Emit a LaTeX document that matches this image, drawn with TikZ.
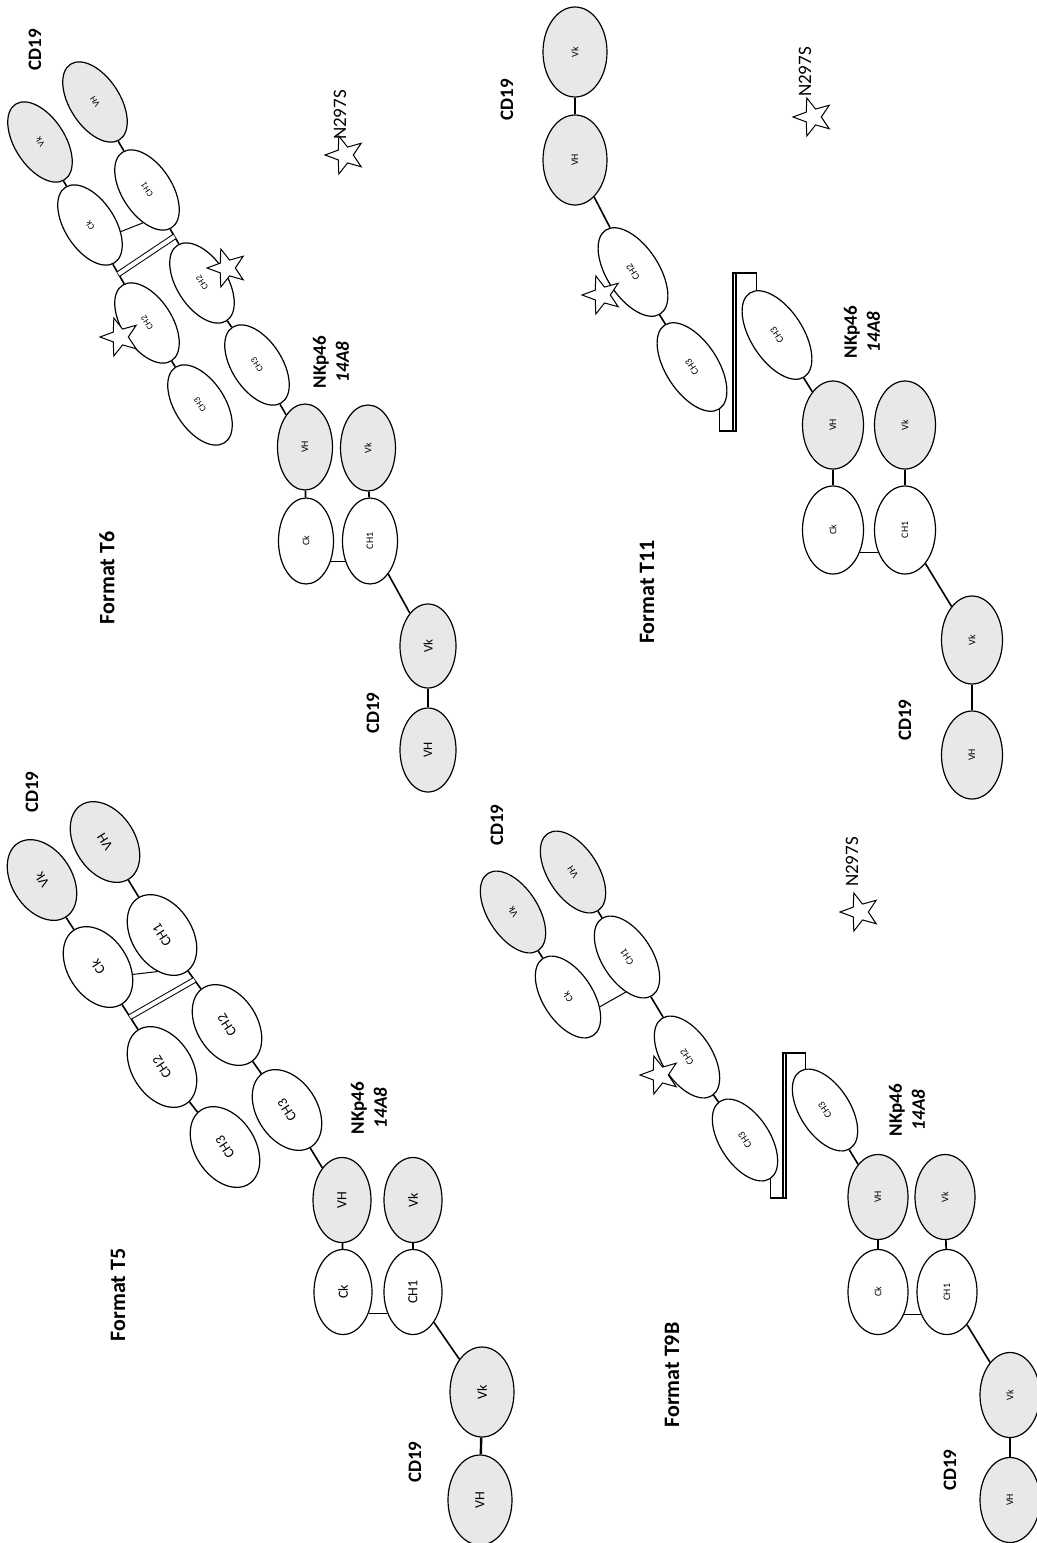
\documentclass[tikz,border=0pt]{standalone}
\usepackage{fontspec}
\setmainfont{Carlito}
\usetikzlibrary{shapes.geometric, calc}

\tikzset{
	dom/.style={ellipse, draw, line width=0.6pt, inner sep=0pt, font=\fontsize{5}{6}\selectfont},
	tilt/.style={dom, rotate=123, minimum width=45pt, minimum height=25pt},
	circdom/.style={dom, rotate=90, minimum width=40pt, minimum height=27pt},
	vdom/.style={fill=black!9},
	link/.style={line width=0.8pt},
	bond/.style={line width=0.5pt},
	sbond/.style={line width=0.5pt, double, double distance=2pt},
	knob/.style={line width=0.6pt},
	mut/.style={star, star points=5, star point ratio=2.4, draw, fill=white, line width=0.5pt, shape border rotate=90, minimum size=20pt, inner sep=0pt},
	lbl/.style={rotate=90, font=\fontsize{9.5}{11.5}\selectfont\bfseries, align=center},
	fmt/.style={rotate=90, font=\fontsize{11}{13}\selectfont\bfseries},
	site/.style={rotate=90, font=\fontsize{9.5}{11}\selectfont},
}

\begin{document}
\begin{tikzpicture}[x=0.5pt, y=-0.5pt]
	\useasboundingbox (0,0) rectangle (1037,1543);

	% Format T6
	\begin{scope}[tilt/.append style={font=\fontsize{4.5}{5}\selectfont}]
	\node[lbl] (t6cd) at (35,50) {CD19};
	\node[tilt, vdom] (t6vk) at (40,142) {Vk};
	\node[tilt, vdom] (t6vh) at (95,102) {VH};
	\node[tilt] (t6ck) at (90,225) {Ck};
	\node[tilt] (t6ch1) at (147,190) {CH1};
	\node[tilt] (t6ch2a) at (147,323) {CH2};
	\node[tilt] (t6ch2b) at (202,283) {CH2};
	\node[tilt] (t6ch3a) at (200,405) {CH3};
	\node[tilt] (t6ch3b) at (257,365) {CH3};
	\draw[link] (t6vk) -- (t6ck);
	\draw[link] (t6vh) -- (t6ch1);
	\draw[bond] (t6ck.-135) -- (t6ch1.140);
	\draw[link] (t6ck) -- (t6ch2a);
	\draw[link] (t6ch1) -- (t6ch2b);
	\draw[sbond] ($(t6ck)!0.5!(t6ch2a)$) -- ($(t6ch1)!0.5!(t6ch2b)$);
	\draw[link] (t6ch2a) -- (t6ch3a);
	\draw[link] (t6ch2b) -- (t6ch3b);
	\node[mut] (t6s1) at (120,337) {};
	\node[mut] (t6s2) at (227,268) {};
	\node[site] (t6n) at (340,115) {N297S};
	\node[mut] (t6s3) at (345,155) {};
	\node[lbl] (t6nk) at (331,362) {NKp46\\\textit{14A8}};
	\begin{scope}[circdom/.append style={minimum width=43pt, minimum height=27.5pt}]
	\node[circdom, vdom] (t6vh2) at (305,447) {VH};
	\node[circdom, vdom] (t6vk2) at (368,448) {Vk};
	\node[circdom] (t6ck2) at (306,541) {Ck};
	\node[circdom] (t6ch12) at (370,541) {CH1};
	\end{scope}
	\node[circdom, vdom, font=\fontsize{6.5}{7}\selectfont, minimum width=42pt, minimum height=28pt] (t6vk3) at (428,646) {Vk};
	\node[circdom, vdom, font=\fontsize{6.5}{7}\selectfont, minimum width=42pt, minimum height=28pt] (t6vh3) at (428,750) {VH};
	\draw[link] (t6ch3b) -- (t6vh2);
	\draw[link] (t6vh2) -- (t6ck2);
	\draw[link] (t6vk2) -- (t6ch12);
	\draw[bond] (t6ck2.-130) -- (t6ch12.130);
	\draw[link] (t6ch12) -- (t6vk3);
	\draw[link, line width=1.2pt] (t6vk3) -- (t6vh3);
	\node[lbl] (t6cd2) at (373,713) {CD19};
	\node[fmt] (t6f) at (107,578) {Format T6};
	\end{scope}

	% Format T11
	\begin{scope}[tilt/.append style={minimum width=50pt, minimum height=26pt},
		circdom/.append style={minimum width=44pt, minimum height=30.5pt}]
	\node[lbl] (t11cd) at (507,100) {CD19};
	\node[circdom, vdom, minimum width=45pt, minimum height=32pt] (t11vk) at (575,52) {Vk};
	\node[circdom, vdom, minimum width=45pt, minimum height=32pt] (t11vh) at (575,160) {VH};
	\node[tilt] (t11ch2) at (633,272) {CH2};
	\node[tilt] (t11ch3a) at (692,367) {CH3};
	\node[tilt] (t11ch3b) at (777,335) {CH3};
	\draw[link, line width=1.2pt] (t11vk) -- (t11vh);
	\draw[link] (t11vh) -- (t11ch2);
	\draw[link] (t11ch2) -- (t11ch3a);
	% knob: thin upright bar with a foot to each CH3
	\coordinate (t11kb) at (736,431);
	\coordinate (t11kt) at (733,273);
	\draw[knob] (t11ch3a.180) |- (t11kb) -- (t11kb |- t11kt) -- (t11kt) -- (t11kt |- t11kb);
	\draw[knob] (t11kb |- t11kt) -| (t11ch3b.-8);
	\node[mut] (t11s1) at (602,295) {};
	\node[site] (t11n) at (805,72) {N297S};
	\node[mut] (t11s2) at (813,117) {};
	\node[lbl] (t11nk) at (862,332) {NKp46\\\textit{14A8}};
	\node[circdom, vdom] (t11vh2) at (833,425) {VH};
	\node[circdom, vdom] (t11vk2) at (905,425) {Vk};
	\node[circdom] (t11ck2) at (833,530) {Ck};
	\node[circdom] (t11ch12) at (905,530) {CH1};
	\node[circdom, vdom] (t11vk3) at (972,640) {Vk};
	\node[circdom, vdom] (t11vh3) at (972,755) {VH};
	\draw[link] (t11ch3b) -- (t11vh2);
	\draw[link] (t11vh2) -- (t11ck2);
	\draw[link] (t11vk2) -- (t11ch12);
	\draw[bond] (t11ck2.-130) -- (t11ch12.130);
	\draw[link] (t11ch12) -- (t11vk3);
	\draw[link, line width=1.2pt] (t11vk3) -- (t11vh3);
	\node[lbl] (t11cd2) at (905,720) {CD19};
	\node[fmt] (t11f) at (647,592) {Format T11};
	\end{scope}

	% Format T5
	\begin{scope}[dom/.append style={font=\fontsize{7}{8}\selectfont},
		tilt/.append style={minimum width=44pt, minimum height=30pt},
		circdom/.append style={minimum width=42.5pt, minimum height=29pt}]
	\node[lbl] (t5cd) at (32,792) {CD19};
	\node[tilt, vdom] (t5vk) at (42,880) {Vk};
	\node[tilt, vdom] (t5vh) at (105,842) {VH};
	\node[tilt] (t5ck) at (98,967) {Ck};
	\node[tilt] (t5ch1) at (162,935) {CH1};
	\node[tilt] (t5ch2a) at (162,1067) {CH2};
	\node[tilt] (t5ch2b) at (227,1025) {CH2};
	\node[tilt] (t5ch3a) at (225,1147) {CH3};
	\node[tilt] (t5ch3b) at (287,1110) {CH3};
	\draw[link] (t5vk) -- (t5ck);
	\draw[link] (t5vh) -- (t5ch1);
	\draw[bond] (t5ck.-135) -- (t5ch1.140);
	\draw[link] (t5ck) -- (t5ch2a);
	\draw[link] (t5ch1) -- (t5ch2b);
	\draw[sbond] ($(t5ck)!0.5!(t5ch2a)$) -- ($(t5ch1)!0.5!(t5ch2b)$);
	\draw[link] (t5ch2a) -- (t5ch3a);
	\draw[link] (t5ch2b) -- (t5ch3b);
	\node[lbl] (t5nk) at (369,1108) {NKp46\\\textit{14A8}};
	\node[circdom, vdom] (t5vh2) at (342,1200) {VH};
	\node[circdom, vdom] (t5vk2) at (413,1200) {Vk};
	\node[circdom] (t5ck2) at (343,1292) {Ck};
	\node[circdom] (t5ch12) at (413,1292) {CH1};
	\node[circdom, vdom, minimum width=45pt, minimum height=32pt] (t5vk3) at (482,1392) {Vk};
	\node[circdom, vdom, minimum width=45pt, minimum height=32pt] (t5vh3) at (480,1500) {VH};
	\draw[link] (t5ch3b) -- (t5vh2);
	\draw[link] (t5vh2) -- (t5ck2);
	\draw[link] (t5vk2) -- (t5ch12);
	\draw[bond] (t5ck2.-130) -- (t5ch12.130);
	\draw[link] (t5ch12) -- (t5vk3);
	\draw[link, line width=1.2pt] (t5vk3) -- (t5vh3);
	\node[lbl] (t5cd2) at (415,1462) {CD19};
	\node[fmt] (t5f) at (118,1295) {Format T5};
	\end{scope}

	% Format T9B
	\begin{scope}[tilt/.append style={minimum width=46pt, minimum height=25pt},
		circdom/.append style={minimum width=42.5pt, minimum height=30pt}]
	\node[lbl] (t9cd) at (497,825) {CD19};
	\node[tilt, vdom] (t9vk) at (513,912) {Vk};
	\node[tilt, vdom] (t9vh) at (573,872) {VH};
	\node[tilt] (t9ck) at (568,997) {Ck};
	\node[tilt] (t9ch1) at (627,957) {CH1};
	\node[tilt] (t9ch2) at (687,1057) {CH2};
	\node[tilt] (t9ch3a) at (745,1140) {CH3};
	\node[tilt] (t9ch3b) at (825,1110) {CH3};
	\draw[link] (t9vk) -- (t9ck);
	\draw[link] (t9vh) -- (t9ch1);
	\draw[bond] (t9ck.-140) -- (t9ch1.145);
	\draw[link] (t9ch1) -- (t9ch2);
	\draw[link] (t9ch2) -- (t9ch3a);
	% knob: thin upright bar with a foot to each CH3
	\coordinate (t9kb) at (786,1198);
	\coordinate (t9kt) at (783,1053);
	\draw[knob] (t9ch3a.180) |- (t9kb) -- (t9kb |- t9kt) -- (t9kt) -- (t9kt |- t9kb);
	\draw[knob] (t9kb |- t9kt) -| (t9ch3b.-8);
	\node[mut] (t9s1) at (660,1075) {};
	\node[site] (t9n) at (852,862) {N297S};
	\node[mut] (t9s2) at (860,912) {};
	\node[lbl] (t9nk) at (907,1110) {NKp46\\\textit{14A8}};
	\node[circdom, vdom] (t9vh2) at (878,1197) {VH};
	\node[circdom, vdom] (t9vk2) at (945,1197) {Vk};
	\node[circdom] (t9ck2) at (878,1292) {Ck};
	\node[circdom] (t9ch12) at (947,1292) {CH1};
	\node[circdom, vdom] (t9vk3) at (1010,1395) {Vk};
	\node[circdom, vdom] (t9vh3) at (1010,1500) {VH};
	\draw[link] (t9ch3b) -- (t9vh2);
	\draw[link] (t9vh2) -- (t9ck2);
	\draw[link] (t9vk2) -- (t9ch12);
	\draw[bond] (t9ck2.-130) -- (t9ch12.130);
	\draw[link] (t9ch12) -- (t9vk3);
	\draw[link, line width=1.2pt] (t9vk3) -- (t9vh3);
	\node[lbl] (t9cd2) at (950,1470) {CD19};
	\node[fmt] (t9f) at (672,1375) {Format T9B};
	\end{scope}

\end{tikzpicture}
\end{document}
